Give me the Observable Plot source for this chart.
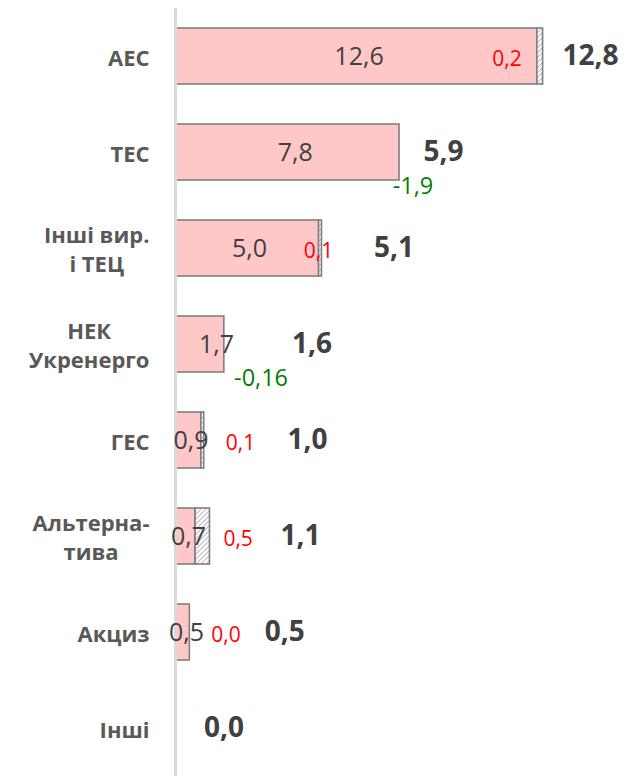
<!DOCTYPE html>
<html><head><meta charset="utf-8">
<script src="https://cdn.jsdelivr.net/npm/d3@7"></script>
<script src="https://cdn.jsdelivr.net/npm/@observablehq/plot@0.6"></script>
<style>html,body{margin:0;padding:0;background:#fff;}</style>
</head><body><div id="chart"></div>
<script>
const categories = ["АЕС", "ТЕС", "Інші вир.\nі ТЕЦ", "НЕК\nУкренерго", "ГЕС", "Альтерна-\nтива", "Акциз", "Інші"];
const baseValues = [12.6, 7.8, 5.0, 1.7, 0.9, 0.7, 0.5, 0.0];
const changeValues = [0.2, -1.9, 0.1, -0.16, 0.1, 0.5, 0.0, null];
const totalValues = [12.8, 5.9, 5.1, 1.6, 1.0, 1.1, 0.5, 0.0];
// label anchor positions (in data units)
const baseLabelAt = [6.39, 4.17, 2.58, 1.43, 0.54, 0.45, 0.38, null];
const changeLabelAt = [11.54, 8.27, 4.98, 2.98, 2.26, 2.18, 1.76, null];
const totalLabelAt = [14.45, 9.33, 7.61, 4.75, 4.60, 4.35, 3.80, 1.69];

const rows = categories.map((cat, i) => ({
  cat, base: baseValues[i], change: changeValues[i], total: totalValues[i],
  bx: baseLabelAt[i], cx: changeLabelAt[i], tx: totalLabelAt[i]
}));

const fmt = v => {
  const s = Math.abs(v * 10 - Math.round(v * 10)) > 1e-9 ? v.toFixed(2) : v.toFixed(1);
  return s.replace(".", ",");
};

const svg = Plot.plot({
  width: 636,
  height: 776,
  marginLeft: 175,
  marginRight: 1.5,
  marginTop: 8,
  marginBottom: 0,
  style: {fontFamily: "'Open Sans', sans-serif", background: "#fff"},
  x: {domain: [0, 16], axis: null},
  y: {domain: categories, paddingInner: 0.42, paddingOuter: 0.19, axis: null},
  marks: [
    Plot.barX(rows.filter(d => d.base > 0), {x1: 0, x2: "base", y: "cat", fill: "#FFC7C7", stroke: "#7F7F7F", strokeWidth: 1.6}),
    Plot.barX(rows.filter(d => d.change > 0), {x1: "base", x2: d => d.base + d.change, y: "cat", fill: "url(#hatch)", stroke: "#7F7F7F", strokeWidth: 1.6}),
    Plot.ruleX(rows.filter(d => d.base === 0), {x: 0, y: "cat", dx: 1.5, stroke: "#7F7F7F", strokeWidth: 1.5}),
    Plot.ruleX([0], {stroke: "#D9D9D9", strokeWidth: 3}),
    Plot.text(rows.filter(d => d.base > 0), {x: "bx", y: "cat", text: d => fmt(d.base), fontSize: 25, fill: "#404040"}),
    Plot.text(rows.filter(d => d.change != null && d.change >= 0), {x: "cx", y: "cat", dy: 3, text: d => fmt(d.change), fontSize: 21, fill: "#FF0000"}),
    Plot.text(rows.filter(d => d.change != null && d.change < 0), {x: "cx", y: "cat", dy: 34, text: d => fmt(d.change), fontSize: 23.5, fill: "#008000"}),
    Plot.text(rows, {x: "tx", y: "cat", text: d => fmt(d.total), fontSize: 28, fontWeight: "bold", fill: "#404040"}),
    Plot.axisY({tickSize: 0, tickPadding: 26, fontSize: 22, fontWeight: "bold", color: "#595959", label: null, lineHeight: 1.32})
  ]
});

const ns = "http://www.w3.org/2000/svg";
const defs = document.createElementNS(ns, "defs");
defs.innerHTML = '<pattern id="hatch" patternUnits="userSpaceOnUse" width="5" height="5">' +
  '<rect width="5" height="5" fill="#fff"/>' +
  '<path d="M-1,1 l2,-2 M0,5 l5,-5 M4,6 l2,-2" stroke="#BFBFBF" stroke-width="1.2"/></pattern>';
svg.insertBefore(defs, svg.firstChild);

document.getElementById("chart").appendChild(svg);

// center the lines of multi-line category labels on each other
svg.querySelectorAll('g[aria-label="y-axis tick label"] text').forEach(t => {
  const spans = t.querySelectorAll("tspan");
  if (spans.length > 1) {
    let maxW = 0;
    spans.forEach(s => { maxW = Math.max(maxW, s.getComputedTextLength()); });
    t.setAttribute("text-anchor", "middle");
    spans.forEach(s => s.setAttribute("x", -maxW / 2));
  }
});
</script>
</body></html>
